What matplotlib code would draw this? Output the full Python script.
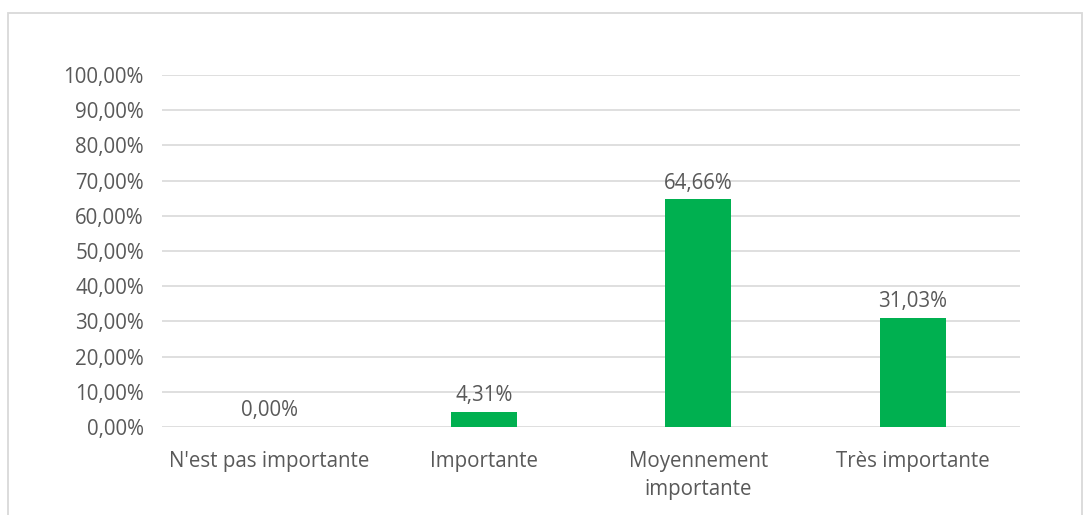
import matplotlib.pyplot as plt
from matplotlib.patches import Rectangle

categories = ["N'est pas importante", "Importante", "Moyennement\nimportante", "Très importante"]
values = [0.00, 4.31, 64.66, 31.03]
yticks = [0, 10, 20, 30, 40, 50, 60, 70, 80, 90, 100]

plt.rcParams['font.family'] = ['Open Sans', 'DejaVu Sans']
text_col = '#595959'
grid_col = '#d9d9d9'

fig = plt.figure(figsize=(10.92, 5.15), dpi=100)
ax = fig.add_axes([162/1092, 1 - 427/515, 858/1092, 352/515])

# chart border
fig.patches.append(Rectangle((8/1092, -0.05), 1074/1092, 1 - 13/515 + 0.05,
                             transform=fig.transFigure, fill=False,
                             edgecolor=grid_col, linewidth=1.3))

x = range(len(categories))
bars = ax.bar(x, values, width=0.31, color='#00B050', zorder=3)

for xi, v in zip(x, values):
    ax.annotate(f"{v:.2f}%".replace('.', ','), (xi, v), xytext=(0, 4),
                textcoords='offset points', ha='center', va='bottom',
                fontsize=14.8, color=text_col)

ax.set_xlim(-0.5, len(categories) - 0.5)
ax.set_ylim(0, 100)
ax.set_yticks(yticks)
ax.set_yticklabels([f"{t},00%" for t in yticks])
ax.set_xticks(list(x))
ax.set_xticklabels(categories, linespacing=1.45)

ax.grid(axis='y', color=grid_col, linewidth=1.2, zorder=0)
for s in ax.spines.values():
    s.set_visible(False)
ax.tick_params(axis='both', length=0, labelsize=14.8, labelcolor=text_col)
ax.tick_params(axis='y', pad=13)
ax.tick_params(axis='x', pad=17)

fig.savefig('out.png', dpi=100)
